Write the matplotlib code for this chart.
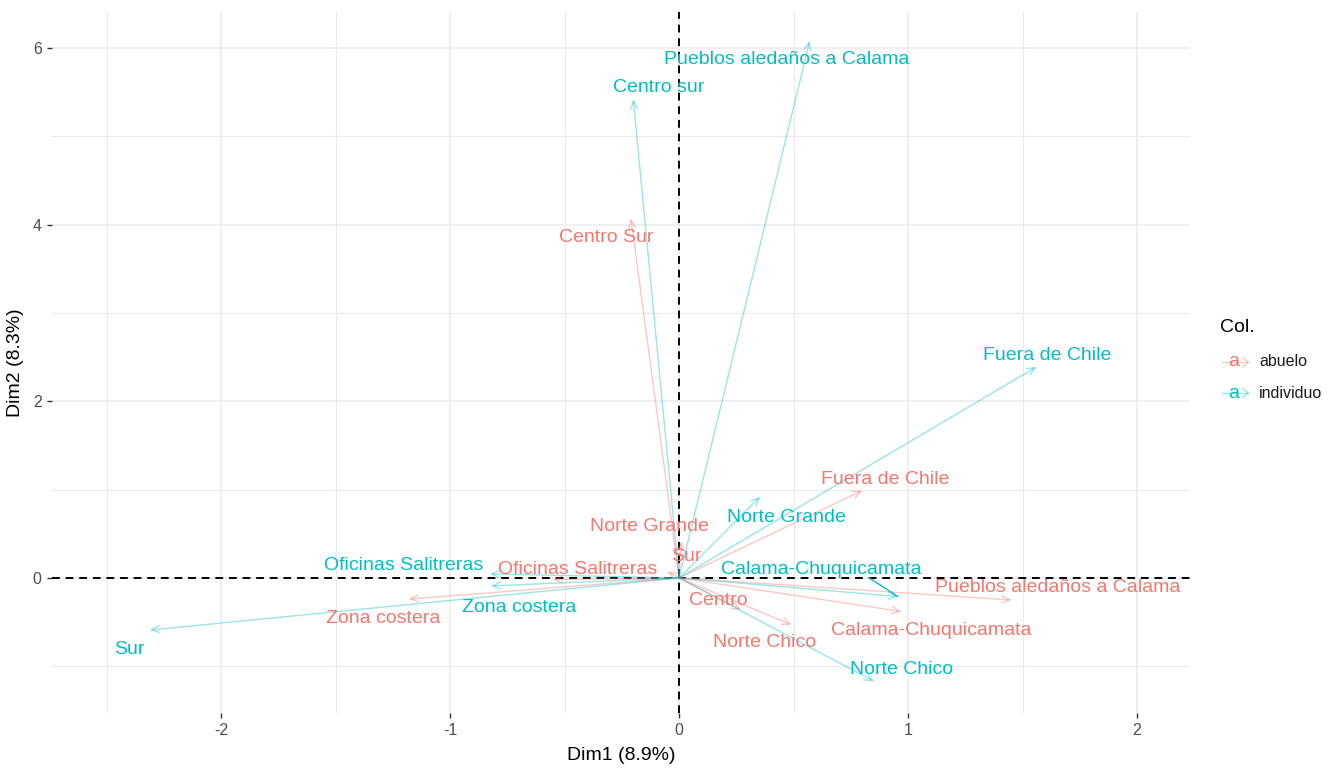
import numpy as np
import matplotlib.pyplot as plt
from matplotlib.lines import Line2D

plt.rcParams['font.family'] = ['Liberation Sans', 'DejaVu Sans']
plt.rcParams['axes.unicode_minus'] = False

# variable coordinates on Dim1 / Dim2, by group
abuelo_names = ['Centro Sur', 'Fuera de Chile', 'Norte Grande', 'Sur',
                'Oficinas Salitreras', 'Zona costera', 'Centro', 'Norte Chico',
                'Calama-Chuquicamata', 'Pueblos aledaños a Calama']
abuelo_x = [-0.21, 0.80, 0.01, -0.05, -0.55, -1.18, 0.27, 0.49, 0.97, 1.45]
abuelo_y = [4.07, 0.99, 0.41, 0.07, -0.02, -0.24, -0.36, -0.53, -0.38, -0.25]
# label positions (repelled)
abuelo_lx = [-0.32, 0.90, -0.13, 0.03, -0.445, -1.29, 0.17, 0.375, 1.10, 1.655]
abuelo_ly = [3.86, 1.12, 0.58, 0.24, 0.09, -0.46, -0.25, -0.73, -0.59, -0.11]

indiv_names = ['Pueblos aledaños a Calama', 'Centro sur', 'Fuera de Chile',
               'Norte Grande', 'Calama-Chuquicamata', 'Oficinas Salitreras',
               'Zona costera', 'Sur', 'Norte Chico']
indiv_x = [0.57, -0.20, 1.56, 0.354, 0.955, -0.825, -0.82, -2.31, 0.85]
indiv_y = [6.08, 5.42, 2.39, 0.92, -0.21, 0.045, -0.09, -0.59, -1.17]
indiv_lx = [0.47, -0.087, 1.607, 0.47, 0.62, -1.205, -0.70, -2.40, 0.97]
indiv_ly = [5.87, 5.55, 2.52, 0.69, 0.09, 0.14, -0.33, -0.81, -1.04]

groups = ['abuelo', 'individuo']
colors = ['#F8766D', '#00BFC4']

fig = plt.figure(figsize=(13.38, 7.69), dpi=100)
ax = fig.add_axes([0.0389, 0.0728, 0.8505, 0.9116])
ax.set_xlim(-2.738, 2.231)
ax.set_ylim(-1.53, 6.41)

ax.set_xticks([-2, -1, 0, 1, 2])
ax.set_yticks([0, 2, 4, 6])
ax.set_xticks([-2.5, -1.5, -0.5, 0.5, 1.5], minor=True)
ax.set_yticks([-1, 1, 3, 5], minor=True)
ax.grid(which='major', color='#EBEBEB', lw=1.1)
ax.grid(which='minor', color='#EBEBEB', lw=0.8)
ax.set_axisbelow(True)
for s in ax.spines.values():
    s.set_visible(False)
ax.tick_params(which='major', length=3.5, width=1, color='#333333',
               labelsize=11.5, labelcolor='#4D4D4D', pad=4)
ax.tick_params(which='minor', length=0)

ax.axhline(0, color='black', ls=(0, (4, 3)), lw=1.4, zorder=2)
ax.axvline(0, color='black', ls=(0, (4, 3)), lw=1.4, zorder=2)

ax.set_xlabel('Dim1 (8.9%)', fontsize=14, labelpad=6)
ax.set_ylabel('Dim2 (8.3%)', fontsize=14, labelpad=6)

series = [
    (abuelo_names, abuelo_x, abuelo_y, abuelo_lx, abuelo_ly, colors[0]),
    (indiv_names, indiv_x, indiv_y, indiv_lx, indiv_ly, colors[1]),
]
for names, xs, ys, lxs, lys, col in series:
    for name, x, y, lx, ly in zip(names, xs, ys, lxs, lys):
        ax.annotate('', xy=(x, y), xytext=(0, 0),
                    arrowprops=dict(arrowstyle='->,head_length=0.55,head_width=0.25',
                                    color=col, alpha=0.4, lw=1.0,
                                    shrinkA=0, shrinkB=0), zorder=3)
        ax.text(lx, ly, name, color=col, fontsize=14, ha='center', va='center',
                zorder=4)

# connector from the repelled label to its arrow tip
ax.plot([0.83, indiv_x[4]], [0.0, indiv_y[4]], color=colors[1], lw=1.0, zorder=3)

# legend
fig.text(1220 / 1338, 1 - 327 / 769, 'Col.', fontsize=14, ha='left', va='center')
for i, (g, col) in enumerate(zip(groups, colors)):
    yk = 1 - (362 + 31 * i) / 769
    fig.add_artist(Line2D([1222 / 1338, 1248 / 1338], [yk, yk], color=col,
                          alpha=0.4, lw=1.0, transform=fig.transFigure))
    fig.add_artist(Line2D([1243 / 1338, 1248 / 1338, 1243 / 1338],
                          [yk + 0.006, yk, yk - 0.006], color=col, alpha=0.4,
                          lw=1.0, transform=fig.transFigure))
    fig.text(1234 / 1338, yk, 'a', color=col, fontsize=14, ha='center',
             va='center')
    fig.text(1259 / 1338, yk, g, fontsize=11.5, color='#1A1A1A', ha='left',
             va='center')

fig.savefig('out.png', dpi=100, facecolor='white')
